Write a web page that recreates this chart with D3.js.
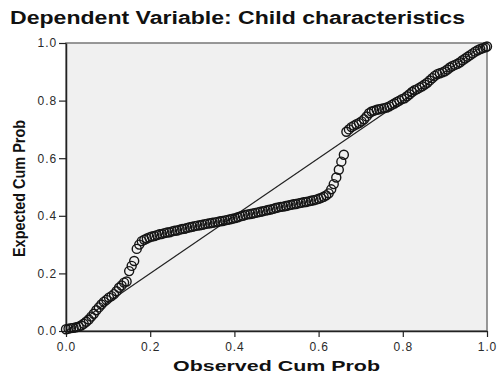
<!DOCTYPE html>
<html>
<head>
<meta charset="utf-8">
<script src="https://cdn.jsdelivr.net/npm/d3@7"></script>
<style>
  body { margin: 0; background: #fff; }
  svg { display: block; font-family: "Liberation Sans", Arial, sans-serif; }
</style>
</head>
<body>
<div id="chart"></div>
<script>
// P-P plot: observed vs expected cumulative probability
const title = "Dependent Variable: Child characteristics";
const xLabel = "Observed Cum Prob";
const yLabel = "Expected Cum Prob";
const tickValues = [0, 0.2, 0.4, 0.6, 0.8, 1.0];

const observed = [
  0.000,0.006,0.012,0.018,0.024,0.030,0.036,0.042,0.048,0.054,0.060,0.066,0.072,0.078,0.084,0.090,0.096,0.102,0.108,0.114,0.120,0.126,0.132,0.138,
  0.144,0.150,0.156,0.162,0.168,0.174,
  0.180,0.186,0.192,0.198,0.204,0.210,0.216,0.222,0.228,0.234,0.240,0.246,0.252,0.258,0.264,0.270,0.276,0.282,0.288,0.294,
  0.300,0.306,0.312,0.318,0.324,0.330,0.336,0.342,0.348,0.354,0.360,0.366,0.372,0.378,0.384,0.390,0.396,0.402,0.408,0.414,
  0.420,0.426,0.432,0.438,0.444,0.450,0.456,0.462,0.468,0.474,0.480,0.486,0.492,0.498,0.504,0.510,0.516,0.522,0.528,0.534,
  0.540,0.546,0.552,0.558,0.564,0.570,0.576,0.582,0.588,0.594,0.600,0.606,0.612,0.618,
  0.624,0.630,0.636,0.642,0.648,0.654,0.660,
  0.666,0.672,0.678,0.684,0.690,0.696,0.702,0.708,0.714,0.720,0.726,0.732,0.738,0.744,0.750,0.756,0.762,0.768,0.774,0.780,
  0.786,0.792,0.798,0.804,0.810,0.816,0.822,0.828,0.834,0.840,0.846,0.852,0.858,0.864,0.870,0.876,0.882,0.888,0.894,0.900,
  0.906,0.912,0.918,0.924,0.930,0.936,0.942,0.948,0.954,0.960,0.966,0.972,0.978,0.984,0.990,0.996,1.000
];

const expected = [
  0.006,0.008,0.010,0.011,0.013,0.015,0.019,0.025,0.032,0.040,0.050,0.060,0.072,0.082,0.092,0.101,0.108,0.116,0.121,0.128,0.138,0.150,0.158,0.168,
  0.172,0.208,0.226,0.243,0.285,0.300,
  0.312,0.317,0.321,0.325,0.328,0.330,0.333,0.336,0.337,0.340,0.342,0.343,0.346,0.348,0.349,0.352,0.354,0.355,0.358,0.360,
  0.362,0.364,0.366,0.367,0.369,0.371,0.373,0.374,0.376,0.377,0.379,0.381,0.382,0.384,0.386,0.388,0.390,0.392,0.395,0.398,
  0.400,0.403,0.405,0.406,0.408,0.410,0.412,0.414,0.416,0.418,0.420,0.422,0.424,0.427,0.429,0.431,0.432,0.434,0.436,0.438,
  0.440,0.441,0.443,0.445,0.447,0.448,0.450,0.452,0.454,0.456,0.459,0.462,0.466,0.471,
  0.478,0.492,0.510,0.533,0.560,0.588,0.612,
  0.692,0.700,0.708,0.713,0.718,0.722,0.728,0.735,0.745,0.756,0.762,0.765,0.768,0.770,0.772,0.774,0.776,0.780,0.785,0.790,
  0.795,0.800,0.805,0.808,0.815,0.822,0.830,0.836,0.840,0.845,0.850,0.856,0.862,0.870,0.878,0.886,0.892,0.895,0.898,0.902,
  0.908,0.915,0.920,0.924,0.928,0.933,0.940,0.946,0.952,0.958,0.964,0.970,0.975,0.979,0.982,0.985,0.988
];

const width = 498, height = 374;
const margin = { top: 43, right: 11, bottom: 43, left: 66 };

const svg = d3.select("#chart")
  .append("svg")
  .attr("width", width)
  .attr("height", height);

const x = d3.scaleLinear().domain([0, 1]).range([margin.left, width - margin.right]);
const y = d3.scaleLinear().domain([0, 1]).range([height - margin.bottom, margin.top]);

// plot background + frame
svg.append("rect")
  .attr("x", x(0)).attr("y", y(1))
  .attr("width", x(1) - x(0)).attr("height", y(0) - y(1))
  .attr("fill", "#f0f0f0")
  .attr("stroke", "#777")
  .attr("stroke-width", 1.5);

// axes
const xAxis = svg.append("g")
  .attr("transform", `translate(0,${y(0)})`)
  .call(d3.axisBottom(x).tickValues(tickValues).tickFormat(d3.format(".1f")).tickSize(6).tickSizeOuter(0));
const yAxis = svg.append("g")
  .attr("transform", `translate(${x(0)},0)`)
  .call(d3.axisLeft(y).tickValues(tickValues).tickFormat(d3.format(".1f")).tickSize(7).tickSizeOuter(0));

[xAxis, yAxis].forEach(g => {
  g.select(".domain").attr("stroke", "#222").attr("stroke-width", 1.5);
  g.selectAll(".tick line").attr("stroke", "#222").attr("stroke-width", 1.2);
  g.selectAll(".tick text")
    .attr("fill", "#2a2a2a")
    .style("font-size", "12px")
    .style("letter-spacing", "0.9px")
    .style("font-family", "'Liberation Sans', Arial, sans-serif");
});
xAxis.selectAll(".tick text").attr("dy", "0.9em");
yAxis.selectAll(".tick text").attr("x", -9);

// reference diagonal
svg.append("line")
  .attr("x1", x(0)).attr("y1", y(0))
  .attr("x2", x(1)).attr("y2", y(1))
  .attr("stroke", "#222")
  .attr("stroke-width", 1.2);

// points
const pts = observed.map((o, i) => ({ o: o, e: expected[i] }));
svg.append("g")
  .selectAll("circle")
  .data(pts)
  .enter()
  .append("circle")
  .attr("cx", d => x(d.o))
  .attr("cy", d => y(d.e))
  .attr("r", 4.5)
  .attr("fill", "none")
  .attr("stroke", "#151515")
  .attr("stroke-width", 1.4);

// labels
svg.append("text")
  .attr("x", 10).attr("y", 24)
  .attr("textLength", 455)
  .attr("lengthAdjust", "spacingAndGlyphs")
  .style("font-size", "18px")
  .style("font-weight", "bold")
  .attr("fill", "#111")
  .text(title);

svg.append("text")
  .attr("x", 173).attr("y", 371)
  .attr("textLength", 207)
  .attr("lengthAdjust", "spacingAndGlyphs")
  .style("font-size", "15px")
  .style("font-weight", "bold")
  .attr("fill", "#111")
  .text(xLabel);

svg.append("text")
  .attr("transform", `translate(25,257) rotate(-90)`)
  .attr("textLength", 137)
  .attr("lengthAdjust", "spacingAndGlyphs")
  .style("font-size", "16px")
  .style("font-weight", "bold")
  .attr("fill", "#111")
  .text(yLabel);
</script>
</body>
</html>
